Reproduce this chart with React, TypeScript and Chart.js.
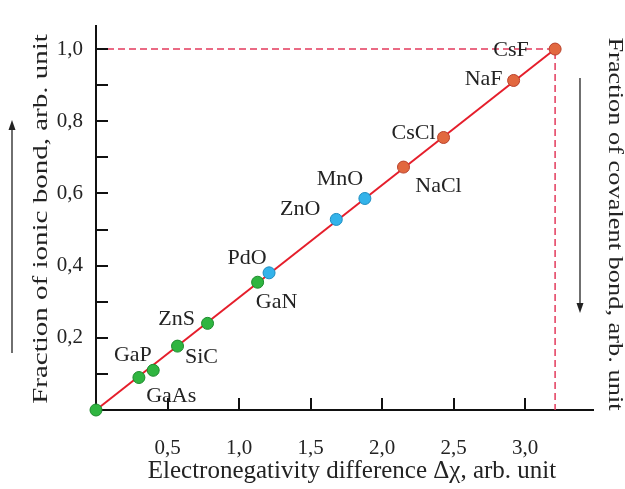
import React, { useEffect, useRef } from 'react';
import { Chart, registerables } from 'chart.js';

Chart.register(...registerables);

// ---- data ----
const compounds = ['', 'GaP', 'GaAs', 'SiC', 'ZnS', 'GaN', 'PdO', 'ZnO', 'MnO', 'NaCl', 'CsCl', 'NaF', 'CsF'];
const deltaChi = [0, 0.3, 0.4, 0.57, 0.78, 1.13, 1.21, 1.68, 1.88, 2.15, 2.43, 2.92, 3.21];
const ionicFraction = [0, 0.09, 0.11, 0.177, 0.24, 0.354, 0.38, 0.528, 0.586, 0.673, 0.755, 0.913, 1.0];
const groups = ['g', 'g', 'g', 'g', 'g', 'g', 'b', 'b', 'b', 'o', 'o', 'o', 'o'];
const fitLineX = [0, 3.21];
const fitLineY = [0, 1.0];
const xAxisMax = 3.475;
const yAxisMax = 1.065;
const xTickStep = 0.5;
const yTickStep = 0.1;

const xTitle = 'Electronegativity difference Δχ, arb. unit';
const yTitle = 'Fraction of ionic bond, arb. unit';
const y2Title = 'Fraction of covalent bond, arb. unit';

// ---- styles ----
const FONT = "'Liberation Serif', 'Times New Roman', serif";
const TEXT = '#232323';
const groupStyle: Record<string, { fill: string; stroke: string }> = {
  g: { fill: '#2fb540', stroke: '#1c8a2c' },
  b: { fill: '#33b3ea', stroke: '#1c8cc0' },
  o: { fill: '#e2683f', stroke: '#b8402a' },
};
const labelOffsets: Record<string, [number, number]> = {
  GaP: [-6, -23],
  GaAs: [18, 25],
  SiC: [24, 10],
  ZnS: [-31, -5],
  GaN: [19, 19],
  PdO: [-22, -16],
  ZnO: [-36, -11],
  MnO: [-25, -20],
  NaCl: [35, 18],
  CsCl: [-30, -5],
  NaF: [-30, -2],
  CsF: [-44, 0],
};

function fmt(v: number) {
  return v.toFixed(1).replace('.', ',');
}

const decorPlugin = {
  id: 'decor',
  afterDatasetsDraw(chart: any) {
    const { ctx, chartArea, scales } = chart;
    const xs = scales.x;
    const ys = scales.y;
    ctx.save();
    // inside tick marks
    ctx.strokeStyle = '#111';
    ctx.lineWidth = 2;
    ys.ticks.forEach((t: any) => {
      if (t.value <= 0) return;
      const y = Math.round(ys.getPixelForValue(t.value));
      ctx.beginPath();
      ctx.moveTo(chartArea.left, y);
      ctx.lineTo(chartArea.left + 12, y);
      ctx.stroke();
    });
    xs.ticks.forEach((t: any) => {
      if (t.value <= 0) return;
      const x = Math.round(xs.getPixelForValue(t.value));
      ctx.beginPath();
      ctx.moveTo(x, chartArea.bottom);
      ctx.lineTo(x, chartArea.bottom - 12);
      ctx.stroke();
    });
    // point labels
    ctx.fillStyle = TEXT;
    ctx.font = `22px ${FONT}`;
    ctx.textAlign = 'center';
    ctx.textBaseline = 'middle';
    compounds.forEach((name, i) => {
      if (!name) return;
      const off = labelOffsets[name] || [0, 0];
      const px = xs.getPixelForValue(deltaChi[i]);
      const py = ys.getPixelForValue(ionicFraction[i]);
      ctx.fillText(name, px + off[0], py + off[1] + 1);
    });
    // axis titles (vertical ones stretched along their length like the source figure)
    const title = (text: string, cx: number, cy: number, rot: number, stretch: number, size: number) => {
      ctx.save();
      ctx.translate(cx, cy);
      ctx.rotate(rot);
      ctx.scale(stretch, 1);
      ctx.font = `${size}px ${FONT}`;
      ctx.fillStyle = TEXT;
      ctx.textAlign = 'center';
      ctx.textBaseline = 'middle';
      ctx.fillText(text, 0, 0);
      ctx.restore();
    };
    title(yTitle, 42, 219, -Math.PI / 2, 1.45, 20);
    title(y2Title, 614, 224, Math.PI / 2, 1.32, 20);
    title(xTitle, 352, 471, 0, 1, 25);
    // arrows beside the vertical titles
    const drawArrow = (x: number, y1: number, y2: number) => {
      ctx.strokeStyle = '#222';
      ctx.fillStyle = '#222';
      ctx.lineWidth = 1.3;
      const dir = y2 < y1 ? -1 : 1;
      ctx.beginPath();
      ctx.moveTo(x, y1);
      ctx.lineTo(x, y2 - dir * 8);
      ctx.stroke();
      ctx.beginPath();
      ctx.moveTo(x, y2);
      ctx.lineTo(x - 3.5, y2 - dir * 10);
      ctx.lineTo(x + 3.5, y2 - dir * 10);
      ctx.closePath();
      ctx.fill();
    };
    drawArrow(12, 353, 120);
    drawArrow(580, 78, 313);
    ctx.restore();
  },
};

export default function App() {
  const ref = useRef<HTMLCanvasElement | null>(null);
  useEffect(() => {
    if (!ref.current) return;
    const pts = deltaChi.map((x, i) => ({ x, y: ionicFraction[i] }));
    const ptFill = groups.map((g) => groupStyle[g].fill);
    const ptStroke = groups.map((g) => groupStyle[g].stroke);
    const csfIdx = compounds.indexOf('CsF');
    const guide = [
      { x: 0, y: ionicFraction[csfIdx] },
      { x: deltaChi[csfIdx], y: ionicFraction[csfIdx] },
      { x: deltaChi[csfIdx], y: 0 },
    ];
    const chart = new Chart(ref.current, {
      type: 'scatter',
      data: {
        datasets: [
          {
            label: 'compounds',
            data: pts,
            pointRadius: 6,
            pointBorderWidth: 1,
            pointBackgroundColor: ptFill,
            pointBorderColor: ptStroke,
            showLine: false,
            clip: false,
          } as any,
          {
            label: 'fit',
            type: 'line',
            data: fitLineX.map((x, i) => ({ x, y: fitLineY[i] })),
            borderColor: '#e51e2b',
            borderWidth: 2,
            pointRadius: 0,
            clip: false,
          } as any,
          {
            label: 'guide',
            type: 'line',
            data: guide,
            borderColor: '#e33a5c',
            borderWidth: 1.5,
            borderDash: [7, 4],
            pointRadius: 0,
            clip: false,
          } as any,
        ],
      },
      options: {
        animation: false,
        responsive: false,
        layout: { padding: { left: 0, top: 19, right: 0, bottom: 0 } },
        plugins: { legend: { display: false }, tooltip: { enabled: false } },
        scales: {
          x: {
            type: 'linear',
            min: 0,
            max: xAxisMax,
            grid: { display: false, drawTicks: false },
            border: { display: true, color: '#111', width: 2 },
            ticks: {
              stepSize: xTickStep,
              includeBounds: false,
              autoSkip: false,
              maxRotation: 0,
              padding: 26,
              color: TEXT,
              font: { family: FONT, size: 21 },
              callback: (v: any) => (Number(v) > 0 ? fmt(Number(v)) : ''),
            },
            afterFit: (s: any) => {
              s.height = 79;
            },
          },
          y: {
            type: 'linear',
            min: 0,
            max: yAxisMax,
            grid: { display: false, drawTicks: false },
            border: { display: true, color: '#111', width: 2 },
            ticks: {
              stepSize: yTickStep,
              includeBounds: false,
              autoSkip: false,
              padding: 13,
              color: TEXT,
              font: { family: FONT, size: 21 },
              callback: (v: any) => {
                const n = Number(v);
                if (n <= 0) return '';
                return Math.round(n * 10) % 2 === 0 ? fmt(n) : '';
              },
            },
            afterFit: (s: any) => {
              s.width = 96;
            },
          },
          y2: {
            type: 'linear',
            position: 'right',
            display: true,
            min: 0,
            max: yAxisMax,
            grid: { display: false, drawTicks: false },
            border: { display: false },
            ticks: { display: false },
            afterFit: (s: any) => {
              s.width = 32;
            },
          },
        },
      } as any,
      plugins: [decorPlugin],
    });
    return () => chart.destroy();
  }, []);
  return (
    <div style={{ position: 'absolute', left: 0, top: 0, width: 625, height: 489, background: '#fff' }}>
      <canvas ref={ref} width={625} height={489} style={{ display: 'block' }} />
    </div>
  );
}
